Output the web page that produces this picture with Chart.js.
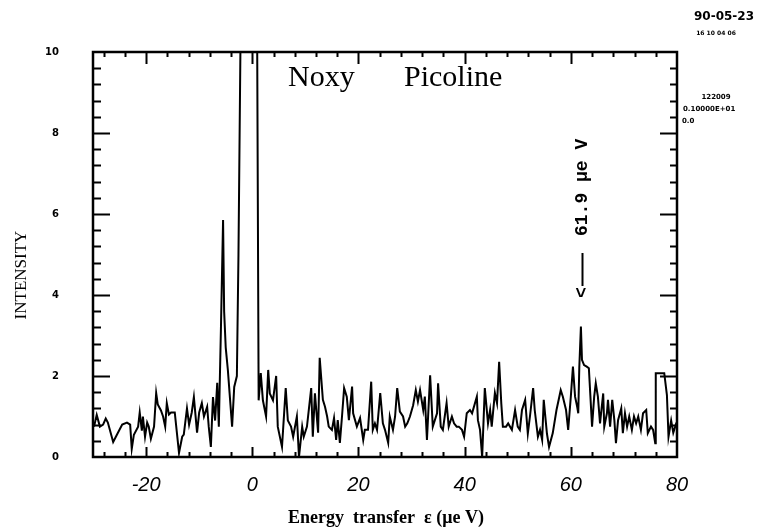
<!DOCTYPE html>
<html>
<head>
<meta charset="utf-8">
<script src="https://cdn.jsdelivr.net/npm/chart.js@4"></script>
<style>
  html, body { margin: 0; padding: 0; background: #fff; }
  #wrap { width: 765px; height: 532px; }
</style>
</head>
<body>
<div id="wrap"><canvas id="spectrum" width="765" height="532"></canvas></div>
<script>
// energy transfer (ueV) and intensity
const energies = [
  -29.8, -29.3, -28.7, -28.1, -27.6, -27.2, -26.2, -25.5, -24.5, -23.6,
  -23.0, -22.7, -22.3, -21.5, -21.2, -20.8, -20.6, -20.2, -19.8, -19.5,
  -19.1, -18.5, -18.1, -17.8, -17.2, -16.8, -16.4, -16.1, -15.7, -15.3,
  -14.6, -13.8, -13.2, -12.9, -12.3, -11.9, -11.4, -11.0, -10.4, -10.0,
  -9.5, -9.1, -8.5, -8.2, -7.8, -7.4, -7.0, -6.6, -6.3, -5.9,
  -5.5, -5.3, -5.0, -4.6, -3.8, -3.4, -2.9, -2.6, -2.2, -1.6,
  -0.8, -0.1, 0.5, 0.9, 1.2, 1.6, 2.0, 2.6, 3.0, 3.3,
  3.9, 4.5, 4.8, 5.6, 6.3, 6.7, 7.3, 7.7, 8.4, 8.8,
  9.4, 9.7, 10.3, 11.1, 11.4, 11.8, 12.4, 12.7, 13.3, 13.7,
  14.1, 14.4, 15.0, 15.4, 15.8, 16.1, 16.5, 16.9, 17.3, 17.8,
  18.2, 18.8, 19.0, 19.7, 20.3, 20.9, 21.2, 21.8, 22.4, 22.7,
  23.1, 23.5, 24.1, 24.6, 25.0, 25.6, 25.9, 26.5, 26.9, 27.3,
  27.8, 28.4, 28.8, 29.2, 29.7, 30.3, 30.8, 31.2, 31.6, 32.2,
  32.5, 32.9, 33.5, 34.0, 34.8, 35.0, 35.5, 35.9, 36.6, 37.0,
  37.6, 38.0, 38.5, 38.9, 39.5, 39.9, 40.4, 41.0, 41.4, 42.3,
  42.5, 42.9, 43.3, 43.8, 44.4, 44.8, 45.1, 45.7, 46.1, 46.5,
  46.9, 47.2, 47.8, 48.2, 48.9, 49.5, 50.0, 50.4, 50.8, 51.4,
  51.9, 52.3, 52.9, 53.2, 53.8, 54.2, 54.6, 54.9, 55.5, 55.9,
  56.6, 57.3, 58.1, 58.5, 59.1, 59.5, 60.0, 60.4, 60.8, 61.2,
  61.4, 61.6, 61.9, 62.1, 62.5, 63.0, 63.4, 64.0, 64.4, 64.7,
  65.1, 65.5, 66.1, 66.3, 66.8, 67.0, 67.4, 67.8, 68.2, 68.5,
  68.9, 69.5, 69.8, 70.2, 70.6, 71.0, 71.5, 71.9, 72.3, 72.7,
  73.2, 73.6, 74.2, 74.5, 75.1, 75.5, 75.9, 76.0, 77.6, 78.1,
  78.4, 78.9, 79.3, 79.9
];
const intensities = [
  0.75, 1.04, 0.75, 0.8, 0.95, 0.85, 0.37, 0.55, 0.8, 0.85,
  0.8, 0.2, 0.55, 0.75, 1.1, 0.65, 1.0, 0.5, 0.85, 0.75,
  0.45, 0.75, 1.58, 1.3, 1.15, 1.0, 0.75, 1.33, 1.05, 1.1,
  1.1, 0.1, 0.5, 0.55, 1.2, 0.8, 1.1, 1.48, 0.6, 1.1,
  1.33, 1.0, 1.24, 0.75, 0.25, 1.48, 0.9, 1.83, 0.75, 3.2,
  5.85, 3.6, 2.7, 2.15, 0.75, 1.73, 2.0, 5.0, 10.5, 40,
  60, 55, 30, 11, 1.4, 2.07, 1.4, 1.0, 2.15, 1.57,
  1.4, 2.0, 0.75, 0.25, 1.7, 0.9, 0.75, 0.5, 1.0, 0.0,
  0.75, 0.5, 0.75, 1.7, 0.5, 1.57, 0.6, 2.45, 1.41, 1.24,
  1.0, 0.75, 0.67, 0.96, 0.42, 0.91, 0.35, 1.0, 1.7, 1.49,
  0.91, 1.74, 1.08, 0.75, 0.96, 0.42, 0.67, 0.67, 1.86, 0.67,
  0.83, 0.67, 1.58, 0.83, 0.67, 0.35, 1.0, 0.67, 1.0, 1.7,
  1.12, 1.0, 0.75, 0.83, 1.0, 1.28, 1.65, 1.37, 1.65, 1.16,
  1.49, 0.42, 2.02, 0.75, 1.08, 1.82, 0.75, 0.67, 1.33, 0.75,
  1.0, 0.83, 0.75, 0.75, 0.67, 0.5, 1.08, 1.16, 1.08, 1.49,
  0.91, 0.67, 0.0, 1.7, 0.83, 1.16, 0.75, 1.58, 1.33, 2.35,
  1.33, 0.75, 0.75, 0.83, 0.67, 1.16, 0.75, 0.67, 1.16, 1.41,
  0.58, 1.0, 1.7, 1.16, 0.5, 0.67, 0.42, 1.41, 0.58, 0.25,
  0.59, 1.16, 1.65, 1.49, 1.16, 0.67, 1.49, 2.23, 1.49, 1.24,
  1.08, 2.23, 3.22, 2.4, 2.27, 2.23, 2.19, 0.75, 1.49, 1.82,
  1.49, 0.83, 1.57, 0.75, 1.08, 1.41, 0.75, 1.41, 0.91, 0.34,
  0.91, 1.2, 0.59, 1.08, 0.75, 1.0, 0.67, 1.0, 0.83, 1.0,
  0.67, 1.08, 1.16, 0.59, 0.75, 0.67, 0.34, 2.07, 2.07, 1.53,
  0.5, 0.9, 0.6, 0.85
];
const xTickValues = [-20, 0, 20, 40, 60, 80];
const yTickValues = [0, 2, 4, 6, 8, 10];
const peakLabel = "61.9 \u03bce V";
const peakEnergy = 62.2;

const points = energies.map((e, i) => ({ x: e, y: intensities[i] }));

// frame with inward ticks on all four sides
const framePlugin = {
  id: "frame",
  afterDatasetsDraw(chart) {
    const { ctx, chartArea: a, scales: { x, y } } = chart;
    ctx.save();
    ctx.strokeStyle = "#000";
    ctx.lineWidth = 2.5;
    ctx.strokeRect(a.left, a.top, a.width, a.height);
    ctx.lineWidth = 2;
    ctx.beginPath();
    for (let v = -28; v < 80; v += 4) {
      const px = Math.round(x.getPixelForValue(v)) + 0.5;
      const major = v % 20 === 0;
      ctx.moveTo(px, a.bottom);
      ctx.lineTo(px, a.bottom - (major ? 10 : 5));
      ctx.moveTo(px, a.top);
      ctx.lineTo(px, a.top + (major ? 12 : 5));
    }
    for (let i = 1; i < 25; i++) {
      const py = Math.round(y.getPixelForValue(i * 0.4)) + 0.5;
      const major = i % 5 === 0;
      ctx.moveTo(a.left, py);
      ctx.lineTo(a.left + (major ? 17 : 8), py);
      ctx.moveTo(a.right, py);
      ctx.lineTo(a.right - (major ? 17 : 7), py);
    }
    ctx.stroke();
    ctx.restore();
  },
  afterDraw(chart) {
    const { ctx, chartArea: a, scales: { x } } = chart;
    ctx.save();
    ctx.fillStyle = "#000";
    ctx.textBaseline = "middle";

    // title inside the plot
    ctx.font = '30px "Liberation Serif"';
    ctx.textAlign = "left";
    ctx.fillText("Noxy", 288, 78);
    ctx.fillText("Picoline", 404, 78);

    // axis titles
    ctx.font = 'bold 18px "Liberation Serif"';
    ctx.textAlign = "center";
    ctx.fillText("Energy  transfer  \u03b5 (\u03bce V)", 386, 518);
    ctx.save();
    ctx.translate(22, 275);
    ctx.rotate(-Math.PI / 2);
    ctx.font = '17px "Liberation Serif"';
    ctx.fillText("INTENSITY", 0, 0);
    ctx.restore();

    // peak marker, written sideways
    const px = x.getPixelForValue(peakEnergy);
    ctx.save();
    ctx.translate(px, 298);
    ctx.rotate(-Math.PI / 2);
    ctx.font = 'bold 18px "Liberation Mono"';
    ctx.textAlign = "left";
    ctx.fillText("<", 0, 0);
    ctx.lineWidth = 2;
    ctx.beginPath();
    ctx.moveTo(12, 0);
    ctx.lineTo(45, 0);
    ctx.stroke();
    ctx.fillText(peakLabel, 62, 0);
    ctx.restore();

    // plotter stamp at the top right
    ctx.textAlign = "center";
    ctx.font = 'bold 12px "DejaVu Sans"';
    ctx.fillText("90-05-23", 724, 17);
    ctx.font = 'bold 6px "DejaVu Sans"';
    ctx.fillText("16 10 04 06", 716, 33);
    ctx.font = 'bold 7px "DejaVu Sans"';
    ctx.fillText("122009", 716, 97);
    ctx.textAlign = "left";
    ctx.fillText("0.10000E+01", 683, 109);
    ctx.fillText("0.0", 682, 121);
    ctx.restore();
  }
};

new Chart(document.getElementById("spectrum").getContext("2d"), {
  type: "line",
  data: {
    datasets: [
      {
        data: points,
        borderColor: "#000",
        borderWidth: 2,
        pointRadius: 0,
        tension: 0,
        fill: false,
      },
    ],
  },
  options: {
    responsive: false,
    animation: false,
    events: [],
    layout: { padding: { left: 0, right: 88, top: 52, bottom: 0 } },
    plugins: {
      legend: { display: false },
      tooltip: { enabled: false },
    },
    scales: {
      x: {
        type: "linear",
        min: -30,
        max: 80,
        grid: { display: false, drawTicks: false },
        border: { display: false },
        afterBuildTicks: (axis) => {
          axis.ticks = xTickValues.map((v) => ({ value: v }));
        },
        afterFit: (axis) => {
          axis.height = 75;
        },
        ticks: {
          color: "#000",
          padding: 16,
          maxRotation: 0,
          font: { family: "Liberation Sans", style: "italic", size: 20 },
        },
      },
      y: {
        min: 0,
        max: 10,
        grid: { display: false, drawTicks: false },
        border: { display: false },
        afterBuildTicks: (axis) => {
          axis.ticks = yTickValues.map((v) => ({ value: v }));
        },
        afterFit: (axis) => {
          axis.width = 93;
        },
        ticks: {
          color: "#000",
          padding: 34,
          font: { family: "DejaVu Sans", weight: "bold", size: 10 },
        },
      },
    },
  },
  plugins: [framePlugin],
});
</script>
</body>
</html>
